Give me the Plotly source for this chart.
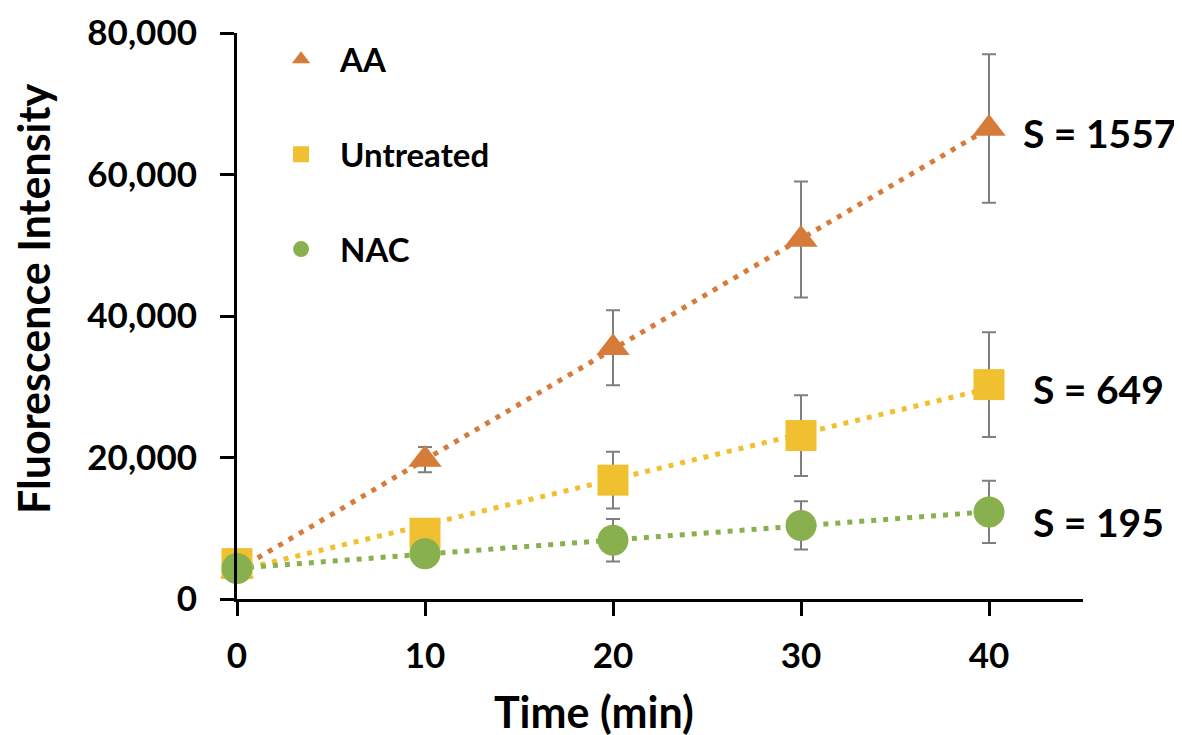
import numpy as np
import plotly.graph_objects as go

time_min = [0, 10, 20, 30, 40]
series_names = ["AA", "Untreated", "NAC"]
aa_vals = [4000, 19700, 35500, 50800, 66500]
aa_err = [500, 1800, 5300, 8200, 10500]
untreated_vals = [5000, 9300, 16800, 23100, 30300]
untreated_err = [500, 1200, 4000, 5700, 7400]
nac_vals = [4300, 6400, 8300, 10400, 12300]
nac_err = [400, 1000, 3000, 3400, 4400]
slope_labels = ["S = 1557", "S = 649", "S = 195"]
y_ticks = [0, 20000, 40000, 60000, 80000]
y_tick_labels = ["0", "20,000", "40,000", "60,000", "80,000"]
x_title = "Time (min)"
y_title = "Fluorescence Intensity"

colors = ["#D77B3B", "#F0C030", "#88B04F"]
symbols = ["triangle-up", "square", "circle"]
sizes = [29, 31, 31]
label_xshift = [32, 42, 42]
label_yshift = [-4, -4, -10]
vals = [aa_vals, untreated_vals, nac_vals]
errs = [aa_err, untreated_err, nac_err]

FONT = "Lato"
W, H = 1182, 735
ML, MR, MT, MB = 229, 107, 25, 144

fig = go.Figure()

# trendlines (linear least-squares fits of each series)
for v, c in zip(vals, colors):
    k, b = np.polyfit(time_min, v, 1)
    xs = [time_min[0], time_min[-1]]
    fig.add_trace(go.Scatter(x=xs, y=[k * x + b for x in xs], mode="lines",
                             line=dict(color=c, width=5, dash="5px,7px"),
                             showlegend=False, hoverinfo="skip", cliponaxis=False))

for name, v, e, c, s, sz in zip(series_names, vals, errs, colors, symbols, sizes):
    fig.add_trace(go.Scatter(x=time_min, y=v, name=name, mode="markers",
                             marker=dict(symbol=s, size=sz, color=c),
                             error_y=dict(type="data", array=e, color="#7F7F7F",
                                          thickness=2, width=7),
                             cliponaxis=False, legendgroup=name))

for lab, v, xs_, ys_ in zip(slope_labels, vals, label_xshift, label_yshift):
    fig.add_annotation(x=time_min[-1], y=v[-1], xref="x", yref="y", text=lab,
                       showarrow=False, xanchor="left", xshift=xs_, yshift=ys_,
                       font=dict(family=FONT, size=39, color="black", weight="bold"))

pw, ph = W - ML - MR, H - MT - MB
# axis titles as annotations (placed like the reference, not centred on the plot)
fig.add_annotation(x=(586 - ML) / pw, y=1 - (703 - MT) / ph, xref="paper", yref="paper",
                   text=x_title, showarrow=False, xanchor="center", yanchor="middle",
                   font=dict(family=FONT, size=43, color="black", weight="bold"))
fig.add_annotation(x=(25 - ML) / pw, y=1 - (291 - MT) / ph, xref="paper", yref="paper",
                   text=y_title, textangle=-90, showarrow=False,
                   xanchor="center", yanchor="middle",
                   font=dict(family=FONT, size=43, color="black", weight="bold"))

fig.update_layout(
    width=W, height=H,
    paper_bgcolor="white", plot_bgcolor="white",
    margin=dict(l=ML, r=MR, t=MT, b=MB),
    font=dict(family=FONT, color="black"),
    legend=dict(x=0.0296, y=1.003, xanchor="left", yanchor="top",
                font=dict(family=FONT, size=33, color="black", weight="bold"),
                tracegroupgap=49, itemwidth=68, bgcolor="rgba(0,0,0,0)"),
    xaxis=dict(range=[0, 45], tickvals=time_min, ticktext=[str(t) for t in time_min],
               automargin=False,
               showgrid=False, zeroline=False, showline=True, linecolor="black", linewidth=3,
               ticks="outside", ticklen=14, tickwidth=3, tickcolor="black",
               ticklabelstandoff=10,
               tickfont=dict(family=FONT, size=35, color="black", weight="bold")),
    yaxis=dict(range=[0, 80000], tickvals=y_ticks, ticktext=y_tick_labels,
               automargin=False,
               showgrid=False, zeroline=False, showline=True, linecolor="black", linewidth=3,
               ticks="outside", ticklen=14, tickwidth=3, tickcolor="black",
               ticklabelstandoff=16,
               tickfont=dict(family=FONT, size=35, color="black", weight="bold")),
)

fig.write_html("out.html")
